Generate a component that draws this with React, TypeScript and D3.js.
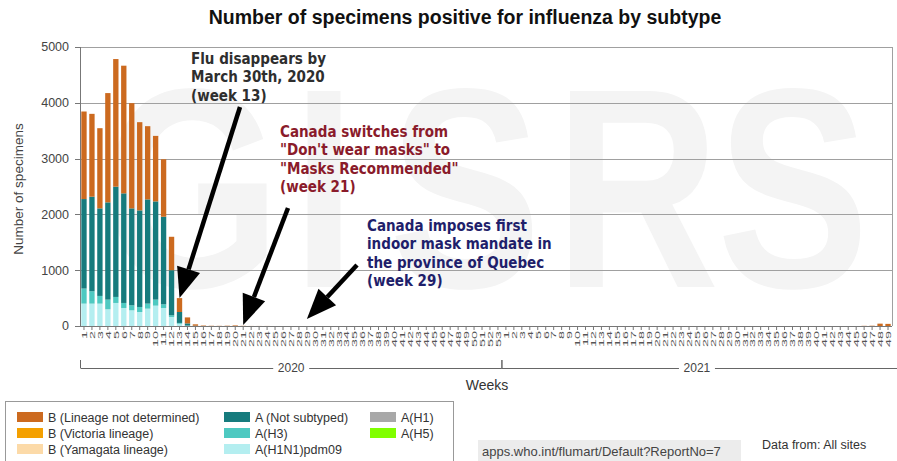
import React from "react";
import * as d3 from "d3";

const W = 897;
const H = 461;

const weeks2020 = d3.range(1, 54);
const weeks2021 = d3.range(1, 50);
const yTicks = [0, 1000, 2000, 3000, 4000, 5000];

// stacked series (bottom to top)
const h1n1pdm09_2020 = [401,401,401,300,413,323,281,251,311,365,323,162,40,5,0,0,0,0,0,0,0,0,0,0,0,0,0,0,0,0,0,0,0,0,0,0,0,0,0,0,0,0,0,0,0,0,0,0,0,0,0,0,0];
const h3_2020 = [270,222,138,173,108,90,90,90,90,108,66,30,15,2,0,0,0,0,0,0,0,0,0,0,0,0,0,0,0,0,0,0,0,0,0,0,0,0,0,0,0,0,0,0,0,0,0,0,0,0,0,0,0];
const aNotSubtyped_2020 = [1604,1694,1569,1743,1976,1964,1737,1731,1868,1760,1569,808,196,40,5,0,0,0,0,0,0,0,0,0,0,0,0,0,0,0,0,0,0,0,0,0,0,0,0,0,0,0,0,0,0,0,0,0,0,0,0,0,0];
const bNotDetermined_2020 = [1569,1485,1437,1958,2287,2288,1886,1581,1312,1174,1030,599,249,107,25,8,4,3,5,10,3,1,1,1,0,0,0,0,0,0,0,0,0,0,0,0,0,0,0,0,0,0,0,0,0,0,0,0,0,0,0,0,0];
const h1n1pdm09_2021 = [0,0,0,0,0,0,0,0,0,0,0,0,0,0,0,0,0,0,0,0,0,0,0,0,0,0,0,0,0,0,0,0,0,0,0,0,0,0,0,0,0,0,0,0,0,0,0,0,0];
const h3_2021 = [0,0,0,0,0,0,0,0,0,0,0,0,0,0,0,0,0,0,0,0,0,0,0,0,0,0,0,0,0,0,0,0,0,0,0,0,0,0,0,0,0,0,0,0,0,0,0,0,0];
const aNotSubtyped_2021 = [0,0,0,0,0,0,0,0,0,0,0,0,0,0,0,0,0,0,0,0,0,0,0,0,0,0,0,0,0,0,0,0,0,0,0,0,0,0,0,0,0,0,0,0,0,0,0,0,0];
const bNotDetermined_2021 = [0,0,0,0,0,0,0,0,0,0,0,0,0,0,0,0,0,0,0,0,0,0,0,0,0,0,0,0,0,0,0,0,0,0,0,0,0,0,0,0,0,0,0,0,0,3,5,42,38];

const seriesKeys = ["h1n1", "h3", "ans", "bnd"];
const seriesColors: Record<string, string> = {
  h1n1: "#b4eef0",
  h3: "#4ec9c1",
  ans: "#167b7d",
  bnd: "#cc6a1f",
};

const legendItems = [
  { label: "B (Lineage not determined)", color: "#cc6a1f", col: 0, row: 0 },
  { label: "B (Victoria lineage)", color: "#f4a000", col: 0, row: 1 },
  { label: "B (Yamagata lineage)", color: "#fcdaa8", col: 0, row: 2 },
  { label: "A (Not subtyped)", color: "#167b7d", col: 1, row: 0 },
  { label: "A(H3)", color: "#4ec9c1", col: 1, row: 1 },
  { label: "A(H1N1)pdm09", color: "#b4eef0", col: 1, row: 2 },
  { label: "A(H1)", color: "#a8a8a8", col: 2, row: 0 },
  { label: "A(H5)", color: "#80ff00", col: 2, row: 1 },
];

const watermark = [
  { ch: "G", cx: 192 },
  { ch: "I", cx: 324 },
  { ch: "S", cx: 465 },
  { ch: "R", cx: 637 },
  { ch: "S", cx: 793 },
];

const annotations = [
  { lines: ["Flu disappears by", "March 30th, 2020", "(week 13)"], x: 191, y: 64, color: "#2e2e2e" },
  { lines: ["Canada switches from", "\"Don't wear masks\" to", "\"Masks Recommended\"", "(week 21)"], x: 280, y: 137, color: "#8a1b2b" },
  { lines: ["Canada imposes first", "indoor mask mandate in", "the province of Quebec", "(week 29)"], x: 367, y: 231, color: "#1f1f6b" },
];

// arrows: from tail to the targeted week
const arrows = [
  { x1: 240, y1: 107, week: 13, yTip: 298 },
  { x1: 288, y1: 208, week: 21, yTip: 325 },
  { x1: 357, y1: 265, week: 29, yTip: 319 },
];

export default function App() {
  const left = 80, right = 892, top = 47, bottom = 326;
  const cats = [
    ...weeks2020.map((w, i) => ({ key: `2020-${w}`, week: w, year: 2020, h1n1: h1n1pdm09_2020[i], h3: h3_2020[i], ans: aNotSubtyped_2020[i], bnd: bNotDetermined_2020[i] })),
    ...weeks2021.map((w, i) => ({ key: `2021-${w}`, week: w, year: 2021, h1n1: h1n1pdm09_2021[i], h3: h3_2021[i], ans: aNotSubtyped_2021[i], bnd: bNotDetermined_2021[i] })),
  ];
  const x = d3.scaleBand<string>().domain(cats.map((c) => c.key)).range([left, right]).paddingInner(0.33).paddingOuter(0.165);
  const y = d3.scaleLinear().domain([0, 5000]).range([bottom, top]);
  const stack = d3.stack<any>().keys(seriesKeys);
  const stacked = stack(cats);
  const bw = x.bandwidth();
  const step = x.step();
  const yearStart2021 = (x(`2021-1`) as number) - (step - bw) / 2;

  const fontSans = "'Liberation Sans', Arial, sans-serif";
  const fontAnn = "'DejaVu Sans', Verdana, sans-serif";

  const arrowHead = (x1: number, y1: number, x2: number, y2: number) => {
    const ang = Math.atan2(y2 - y1, x2 - x1);
    const len = 30, hw = 12;
    const bx = x2 - len * Math.cos(ang), by = y2 - len * Math.sin(ang);
    const px = -Math.sin(ang), py = Math.cos(ang);
    return { bx, by, pts: `${x2},${y2} ${bx + px * hw},${by + py * hw} ${bx - px * hw},${by - py * hw}` };
  };

  return (
    <svg width={W} height={H} style={{ position: "absolute", left: 0, top: 0, background: "#fff" }}>
      <rect x={0} y={0} width={W} height={H} fill="#fff" />
      {/* watermark */}
      {watermark.map((l, i) => (
        <text key={i} transform={`translate(${l.cx},287) scale(0.8,1)`} textAnchor="middle" fontFamily={fontSans} fontWeight="bold" fontSize={285} fill="#f4f4f4">
          {l.ch}
        </text>
      ))}
      {/* title */}
      <text x={465} y={24} textAnchor="middle" fontFamily={fontSans} fontWeight="bold" fontSize={19.5} fill="#111">
        Number of specimens positive for influenza by subtype
      </text>
      {/* gridlines */}
      {yTicks.map((t) => (
        <g key={t}>
          <line x1={left} x2={right} y1={Math.round(y(t)) + 0.5} y2={Math.round(y(t)) + 0.5} stroke={t === 0 ? "#777" : "#a0a0a0"} strokeWidth={1} />
          <line x1={left - 5} x2={left} y1={Math.round(y(t)) + 0.5} y2={Math.round(y(t)) + 0.5} stroke="#777" />
          <text x={left - 11} y={y(t)} dy="0.35em" textAnchor="end" fontFamily={fontSans} fontSize={12.5} fill="#444">
            {t}
          </text>
        </g>
      ))}
      <line x1={left + 0.5} x2={left + 0.5} y1={top} y2={bottom} stroke="#777" />
      <line x1={right + 0.5} x2={right + 0.5} y1={top} y2={bottom} stroke="#a0a0a0" />
      {/* y axis title */}
      <text transform={`translate(23,189) rotate(-90)`} textAnchor="middle" fontFamily={fontSans} fontSize={13.5} fill="#444">
        Number of specimens
      </text>
      {/* bars */}
      {stacked.map((s) => (
        <g key={s.key} fill={seriesColors[s.key]}>
          {s.map((d, i) => {
            const h = y(d[0]) - y(d[1]);
            if (h <= 0) return null;
            return <rect key={i} x={x(cats[i].key)} y={y(d[1])} width={bw} height={h} />;
          })}
        </g>
      ))}
      {/* x ticks and labels */}
      {cats.map((c) => {
        const cx = (x(c.key) as number) + bw / 2;
        return (
          <g key={c.key}>
            <line x1={cx} x2={cx} y1={bottom} y2={bottom + 4} stroke="#777" />
            <text transform={`translate(${cx},${bottom + 5}) rotate(-90) scale(1.8,1)`} dy="0.35em" textAnchor="end" fontFamily={fontSans} fontSize={8} fill="#555">
              {c.week}
            </text>
          </g>
        );
      })}
      {/* year brackets */}
      {[
        { label: "2020", x0: left + 0.5, x1: yearStart2021 },
        { label: "2021", x0: yearStart2021, x1: right + 8 },
      ].map((b) => {
        const mid = (b.x0 + Math.min(b.x1, right)) / 2;
        return (
          <g key={b.label}>
            <line x1={b.x0} x2={b.x0} y1={360} y2={368} stroke="#666" />
            <line x1={b.x1} x2={b.x1} y1={360} y2={368} stroke="#666" />
            <line x1={b.x0} x2={mid - 18} y1={368.5} y2={368.5} stroke="#666" />
            <line x1={mid + 18} x2={b.x1} y1={368.5} y2={368.5} stroke="#666" />
            <text x={mid} y={368} dy="0.35em" textAnchor="middle" fontFamily={fontSans} fontSize={12} fill="#444">
              {b.label}
            </text>
          </g>
        );
      })}
      <text x={487} y={390} textAnchor="middle" fontFamily={fontSans} fontSize={14} fill="#333">
        Weeks
      </text>
      {/* annotations */}
      {annotations.map((a, i) => (
        <text key={i} x={a.x} y={a.y} fontFamily={fontAnn} fontWeight="bold" fontStretch="condensed" fontSize={15} fill={a.color}>
          {a.lines.map((ln, j) => (
            <tspan key={j} x={a.x} dy={j === 0 ? 0 : 18.3}>
              {ln}
            </tspan>
          ))}
        </text>
      ))}
      {arrows.map((a, i) => {
        const x2 = (x(`2020-${a.week}`) as number) + bw / 2;
        const hd = arrowHead(a.x1, a.y1, x2, a.yTip);
        return (
          <g key={i}>
            <line x1={a.x1} y1={a.y1} x2={hd.bx} y2={hd.by} stroke="#000" strokeWidth={4.5} />
            <polygon points={hd.pts} fill="#000" />
          </g>
        );
      })}
      {/* legend */}
      <rect x={5.5} y={401.5} width={448} height={80} fill="#fff" stroke="#999" />
      {legendItems.map((l) => {
        const colX = [17, 224, 370][l.col];
        const rowY = 412 + l.row * 16;
        return (
          <g key={l.label}>
            <rect x={colX} y={rowY} width={26} height={10} fill={l.color} />
            <text x={colX + 31} y={rowY + 10} fontFamily={fontSans} fontSize={12.5} fill="#333">
              {l.label}
            </text>
          </g>
        );
      })}
      {/* source */}
      <rect x={478} y={440} width={263} height={22} fill="#ececec" />
      <text x={482} y={456} fontFamily={fontSans} fontSize={13} fill="#444">
        apps.who.int/flumart/Default?ReportNo=7
      </text>
      <text x={762} y={449} fontFamily={fontSans} fontSize={12.5} fill="#333">
        Data from: All sites
      </text>
    </svg>
  );
}
